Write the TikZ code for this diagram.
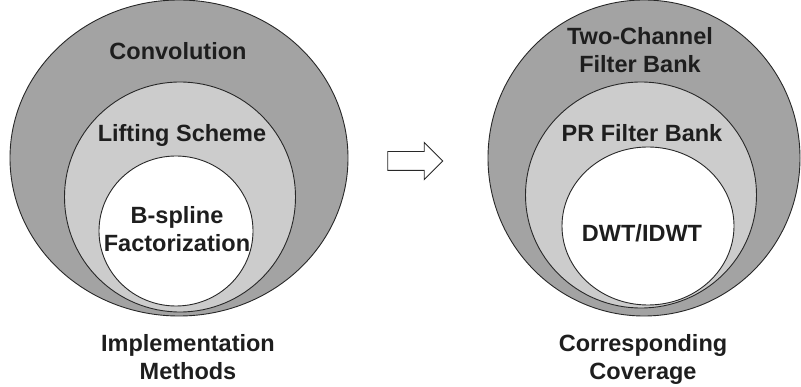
\documentclass[tikz,border=0pt]{standalone}
\usepackage{fontspec}
\setmainfont{Liberation Sans}
\usepackage{xcolor}
\usetikzlibrary{shapes.geometric,shapes.arrows}
\definecolor{outergray}{RGB}{163,163,163}
\definecolor{innergray}{RGB}{204,204,204}
\definecolor{edgegray}{RGB}{40,40,40}
\definecolor{textdark}{RGB}{30,30,30}

\begin{document}
\begin{tikzpicture}[x=1pt,y=-1pt,
    ring/.style={ellipse, draw=edgegray, line width=0.9pt, inner sep=0pt},
    lbl/.style={anchor=base, align=center, text=textdark,
      font=\fontsize{23.5}{28}\selectfont\bfseries}]
    \useasboundingbox (0,0) rectangle (801,387);

    % left: implementation methods
    \node[ring, fill=outergray, minimum width=338pt, minimum height=316pt] (convring) at (179,158) {};
    \node[ring, fill=innergray, minimum width=231pt, minimum height=230pt] (liftring) at (180,197) {};
    \node[ring, fill=white, minimum width=154pt, minimum height=150pt] (splinering) at (176,231) {};
    \node[lbl] (conv) at (178,60) {Convolution};
    \node[lbl] (lift) at (182,142) {Lifting Scheme};
    \node[lbl] (spline) at (177,252) {B-spline\\Factorization};
    \node[lbl] (methods) at (188,380) {Implementation\\Methods};

    % arrow
    \node[single arrow, draw=edgegray, fill=white, line width=0.9pt, inner xsep=0pt, inner ysep=9pt,
      minimum height=55pt, single arrow head extend=9pt] (step) at (410.5,161) {};

    % right: corresponding coverage
    \node[ring, fill=outergray, minimum width=312pt, minimum height=316pt] (bankring) at (644,158) {};
    \node[ring, fill=innergray, minimum width=231pt, minimum height=226pt] (prring) at (641,195) {};
    \node[ring, fill=white, minimum width=172pt, minimum height=158pt] (dwtring) at (648,226) {};
    \node[lbl] (bank) at (640,73) {Two-Channel\\Filter Bank};
    \node[lbl] (pr) at (642,142) {PR Filter Bank};
    \node[lbl] (dwt) at (642,242) {DWT/IDWT};
    \node[lbl] (coverage) at (643,380) {Corresponding\\Coverage};
\end{tikzpicture}
\end{document}
